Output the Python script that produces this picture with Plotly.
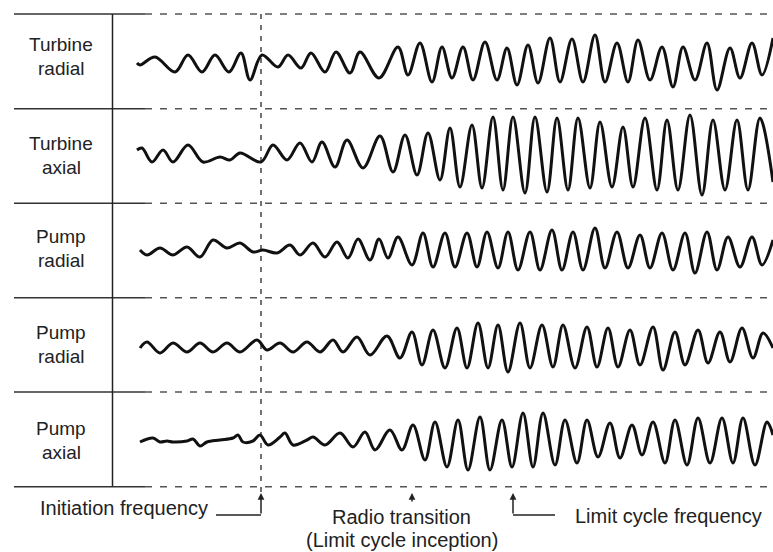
import plotly.graph_objects as go

# ---------------- data ----------------
sensor_labels = [["Turbine", "radial"], ["Turbine", "axial"], ["Pump", "radial"],
                 ["Pump", "radial"], ["Pump", "axial"]]

# time positions of the extrema of each trace, and their amplitudes (positive = up)
t_turbine_radial = [137, 140, 155, 175, 188, 202, 215, 229, 241, 250,
                    262, 278, 288, 301, 311, 325, 336, 350, 360, 379,
                    398, 408, 420, 432, 442, 452, 463, 473, 485, 497,
                    507, 517, 528, 538, 550, 560, 572, 583, 595, 605,
                    617, 628, 638, 650, 662, 673, 683, 695, 707, 717,
                    730, 740, 752, 762, 773]
a_turbine_radial = [-1, -3, 5, -10, 7, -10, 7, -10, 9, -18,
                    7, -5, 7, -6, 9, -10, 10, -11, 10, -16,
                    15, -13, 19, -20, 15, -16, 15, -18, 20, -18,
                    14, -23, 17, -21, 24, -20, 23, -20, 27, -20,
                    19, -20, 22, -18, 15, -25, 15, -18, 19, -28,
                    14, -16, 19, -13, 24]

t_turbine_axial = [137, 142, 152, 163, 173, 188, 203, 220, 230, 240,
                   261, 273, 287, 300, 312, 322, 335, 347, 363, 380,
                   393, 405, 417, 428, 440, 450, 460, 472, 482, 493,
                   503, 513, 525, 535, 547, 557, 568, 578, 590, 600,
                   612, 623, 633, 645, 657, 667, 678, 690, 702, 713,
                   725, 737, 748, 760, 773]
a_turbine_axial = [5, 7, -7, 5, -7, 10, -7, -2, -5, 2,
                   -7, 10, -5, 12, -7, 13, -12, 15, -13, 19,
                   -17, 20, -20, 22, -25, 27, -32, 30, -33, 38,
                   -35, 38, -38, 38, -37, 37, -35, 37, -33, 33,
                   -32, 28, -32, 37, -35, 35, -35, 40, -40, 35,
                   -35, 35, -35, 37, -27]

t_pump_radial_1 = [140, 147, 160, 173, 187, 200, 213, 227, 240, 253,
                   263, 277, 290, 300, 313, 325, 337, 348, 358, 370,
                   379, 388, 398, 412, 423, 433, 445, 455, 467, 477,
                   487, 498, 508, 518, 530, 540, 552, 562, 573, 583,
                   595, 605, 617, 628, 640, 650, 662, 673, 685, 695,
                   707, 717, 728, 740, 752, 762, 773]
a_pump_radial_1 = [1, -4, 3, -4, 4, -6, 11, 3, 8, -1,
                   1, -2, 6, -4, 8, -6, 9, -7, 12, -9,
                   12, -7, 14, -14, 18, -16, 18, -16, 18, -16,
                   19, -17, 19, -19, 19, -19, 21, -19, 19, -19,
                   23, -17, 19, -17, 16, -17, 18, -19, 18, -22,
                   19, -19, 14, -16, 14, -14, 11]

t_pump_radial_2 = [140, 147, 160, 173, 187, 200, 213, 227, 240,
                   257, 267, 280, 293, 307, 320, 333, 343, 357, 370,
                   387, 400, 412, 422, 433, 445, 457, 467, 478, 488,
                   498, 508, 520, 530, 542, 553, 563, 575, 587, 597,
                   608, 618, 630, 640, 653, 663, 675, 685, 698, 708,
                   720, 730, 742, 753, 763, 773]
a_pump_radial_2 = [-3, 3, -8, 2, -7, 2, -7, 2, -7,
                   5, -5, 2, -7, 3, -7, 5, -7, 8, -10,
                   9, -13, 13, -20, 15, -23, 17, -23, 22, -23,
                   20, -27, 22, -23, 20, -22, 20, -23, 18, -22,
                   17, -22, 15, -20, 18, -25, 13, -20, 15, -18,
                   13, -17, 17, -13, 12, -3]

t_pump_axial = [140, 153, 160, 167, 173, 187, 193, 200, 207, 220,
                233, 238, 243, 253, 260, 268, 280, 285, 293, 307,
                313, 325, 340, 353, 365, 375, 390, 402, 413, 425,
                435, 447, 458, 468, 480, 490, 502, 512, 523, 533,
                543, 555, 565, 577, 587, 598, 610, 620, 632, 642,
                653, 665, 675, 687, 698, 710, 722, 733, 743, 755,
                767, 773]
a_pump_axial = [-2, 2, -2, -1, -2, -1, 1, -6, -2, 0,
                2, 5, -2, -1, 5, -5, 3, 7, -5, 0,
                3, -5, 7, -7, 8, -10, 10, -10, 15, -20,
                18, -27, 20, -30, 23, -30, 20, -27, 27, -27,
                27, -25, 20, -23, 20, -17, 17, -18, 15, -15,
                18, -23, 20, -25, 22, -23, 22, -23, 22, -25,
                18, 5]

series = [(t_turbine_radial, a_turbine_radial),
          (t_turbine_axial, a_turbine_axial),
          (t_pump_radial_1, a_pump_radial_1),
          (t_pump_radial_2, a_pump_radial_2),
          (t_pump_axial, a_pump_axial)]

# ---------------- layout constants ----------------
W, H = 773, 552
baselines = [62, 155, 251, 345, 440]
label_centers = [56, 155, 248, 344, 440]
row_lines = [14, 108.7, 203.3, 297.7, 392, 486.7]
FONT = "Arial, Liberation Sans, sans-serif"
TXT = "#222222"

fig = go.Figure()

for (t, a), base in zip(series, baselines):
    fig.add_trace(go.Scatter(
        x=t, y=[base - v for v in a], mode="lines",
        line=dict(color="#111111", width=3, shape="spline", smoothing=1.0),
        hoverinfo="skip", showlegend=False))

shapes = []
for yv in row_lines:
    shapes.append(dict(type="line", xref="x", yref="y", x0=14, x1=145, y0=yv, y1=yv,
                       line=dict(color="#333333", width=1.5), layer="below"))
    shapes.append(dict(type="line", xref="x", yref="y", x0=145, x1=W, y0=yv, y1=yv,
                       line=dict(color="#555555", width=1.5, dash="7px,8px"), layer="below"))
# left vertical divider
shapes.append(dict(type="line", xref="x", yref="y", x0=112.5, x1=112.5, y0=14, y1=486.7,
                   line=dict(color="#222222", width=1.5), layer="below"))
# initiation vertical dashed line
shapes.append(dict(type="line", xref="x", yref="y", x0=261, x1=261, y0=14, y1=492,
                   line=dict(color="#444444", width=1.5, dash="5px,6px"), layer="below"))
# initiation bracket
shapes.append(dict(type="line", xref="x", yref="y", x0=216, x1=261, y0=515, y1=515,
                   line=dict(color="#222222", width=1.5)))
# limit cycle bracket
shapes.append(dict(type="line", xref="x", yref="y", x0=513, x1=555, y0=515, y1=515,
                   line=dict(color="#222222", width=1.5)))

annotations = []
for lines, yc in zip(sensor_labels, label_centers):
    annotations.append(dict(x=61, y=yc - 12, xref="x", yref="y", text=lines[0], showarrow=False,
                            font=dict(family=FONT, size=19, color=TXT), xanchor="center", yanchor="middle"))
    annotations.append(dict(x=61, y=yc + 12, xref="x", yref="y", text=lines[1], showarrow=False,
                            font=dict(family=FONT, size=19, color=TXT), xanchor="center", yanchor="middle"))

# arrows
for xa, ytail in [(261, 515), (412, 503), (513, 515)]:
    annotations.append(dict(x=xa, y=493, ax=xa, ay=ytail, xref="x", yref="y", axref="x", ayref="y",
                            text="", showarrow=True, arrowhead=2, arrowsize=0.9, arrowwidth=1.5,
                            arrowcolor="#222222"))

annotations.append(dict(x=123.5, y=508, xref="x", yref="y", text="Initiation frequency", showarrow=False,
                        font=dict(family=FONT, size=20, color=TXT), xanchor="center", yanchor="middle"))
annotations.append(dict(x=401.5, y=517, xref="x", yref="y", text="Radio transition", showarrow=False,
                        font=dict(family=FONT, size=20, color=TXT), xanchor="center", yanchor="middle"))
annotations.append(dict(x=401.5, y=540, xref="x", yref="y", text="(Limit cycle inception)", showarrow=False,
                        font=dict(family=FONT, size=20, color=TXT), xanchor="center", yanchor="middle"))
annotations.append(dict(x=573, y=516, xref="x", yref="y", text="Limit cycle frequency", showarrow=False,
                        font=dict(family=FONT, size=20, color=TXT), xanchor="left", yanchor="middle"))

fig.update_layout(
    width=W, height=H, margin=dict(l=0, r=0, t=0, b=0),
    paper_bgcolor="white", plot_bgcolor="white",
    xaxis=dict(range=[0, W], visible=False, fixedrange=True),
    yaxis=dict(range=[H, 0], visible=False, fixedrange=True),
    shapes=shapes, annotations=annotations, showlegend=False)

fig.write_html("out.html", config={"displayModeBar": False},
               post_script="document.body.style.margin='0';document.body.style.overflow='hidden';")
